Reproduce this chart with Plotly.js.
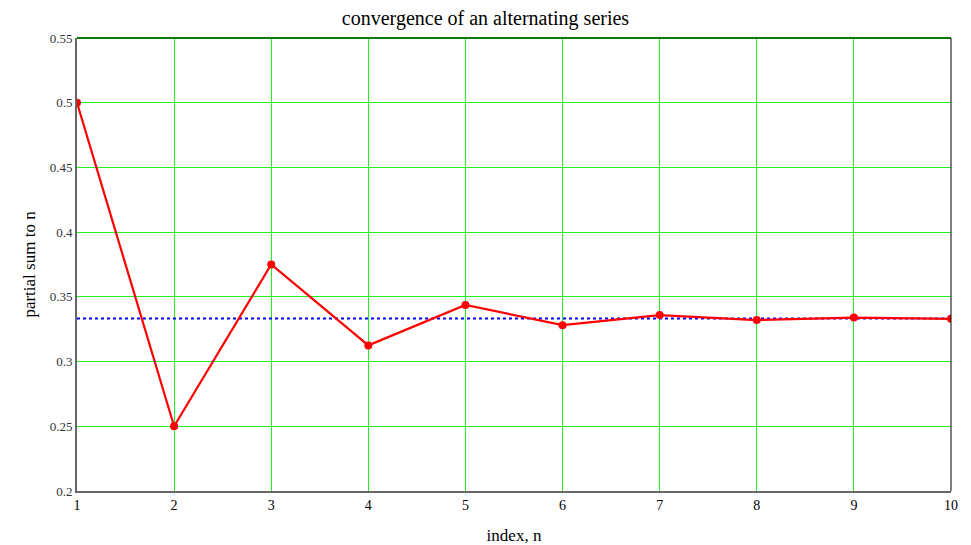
<!DOCTYPE html>
<html>
<head>
<meta charset="utf-8">
<script src="https://cdn.plot.ly/plotly-3.0.1.min.js"></script>
<style>html,body{margin:0;padding:0;background:#fff;}#chart{width:971px;height:545px;}</style>
</head>
<body>
<div id="chart"></div>
<script>
const nValues = [1, 2, 3, 4, 5, 6, 7, 8, 9, 10];
const partialSums = [0.5, 0.25, 0.375, 0.3125, 0.34375, 0.328125, 0.3359375, 0.33203125, 0.333984375, 0.3330078125];
const limitX = [1, 10];
const limitY = [0.33333, 0.33333];
const yTicks = [0.2, 0.25, 0.3, 0.35, 0.4, 0.45, 0.5, 0.55];
const yTickText = ['0.2', '0.25', '0.3', '0.35', '0.4', '0.45', '0.5', '0.55'];

const font = 'Liberation Serif, Times New Roman, serif';
const traces = [
  {x: limitX, y: limitY, mode: 'lines', line: {color: '#0000ff', width: 2, dash: 'dot'}, hoverinfo: 'skip'},
  {x: nValues, y: partialSums, mode: 'lines+markers', line: {color: '#ff0000', width: 2.2}, marker: {color: '#ff0000', size: 8}}
];
const layout = {
  width: 971, height: 545,
  margin: {l: 77, r: 20, t: 38, b: 54},
  showlegend: false,
  paper_bgcolor: '#fff', plot_bgcolor: '#fff',
  title: {text: 'convergence of an alternating series', font: {family: font, size: 20, color: '#000'}, x: 0.5, xanchor: 'center', y: 0.967, yanchor: 'middle'},
  xaxis: {
    range: [1, 10], tickvals: nValues, ticks: '', showgrid: true, gridcolor: '#22ee22', gridwidth: 1,
    zeroline: false, showline: true, linecolor: '#666', linewidth: 2,
    tickfont: {family: font, size: 14, color: '#000'},
    title: {text: 'index, n', font: {family: font, size: 17, color: '#000'}, standoff: 20}
  },
  yaxis: {
    range: [0.2, 0.55], tickvals: yTicks, ticktext: yTickText, ticks: '', showgrid: true, gridcolor: '#22ee22', gridwidth: 1,
    zeroline: false, showline: true, linecolor: '#666', linewidth: 2,
    tickfont: {family: font, size: 13, color: '#333'},
    title: {text: 'partial sum to n', font: {family: font, size: 17, color: '#000'}, standoff: 10}
  },
  shapes: [
    {type: 'line', xref: 'paper', yref: 'paper', x0: 0, x1: 1, y0: 1, y1: 1, line: {color: '#0b7a0b', width: 2}},
    {type: 'line', xref: 'paper', yref: 'paper', x0: 1, x1: 1, y0: 0, y1: 1, line: {color: '#000', width: 1}}
  ]
};
Plotly.newPlot('chart', traces, layout, {displayModeBar: false, staticPlot: true});
</script>
</body>
</html>
